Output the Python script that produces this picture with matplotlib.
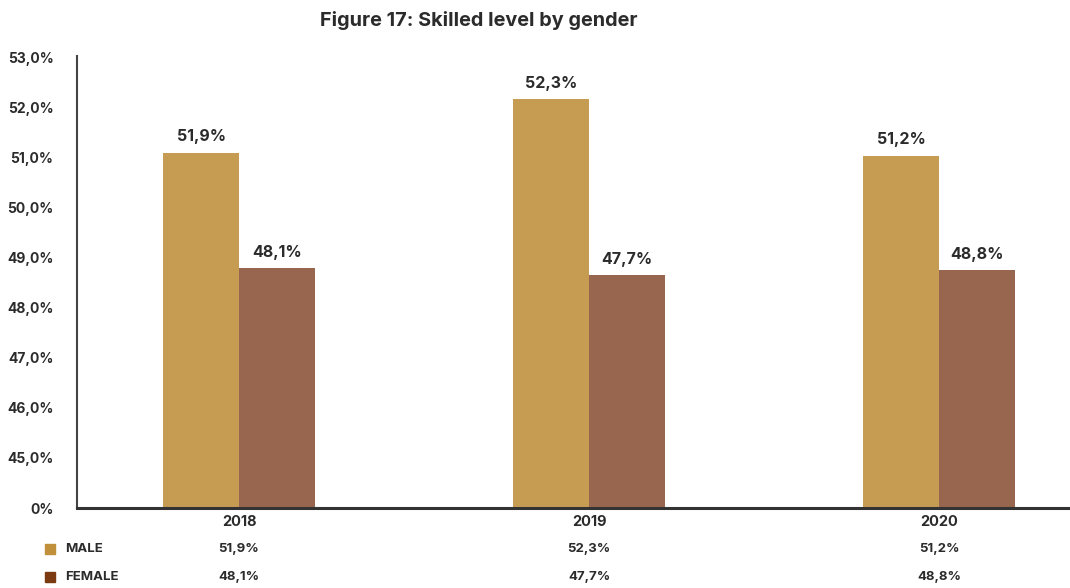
import numpy as np
import matplotlib.pyplot as plt
from matplotlib.patches import Rectangle

years = ["2018", "2019", "2020"]
male_labels = [51.9, 52.3, 51.2]
female_labels = [48.1, 47.7, 48.8]
# bar tops as drawn in the original (on the 45-53 scale)
male_bars = [51.11, 52.17, 51.05]
female_bars = [48.80, 48.66, 48.76]
tick_values = ["0%", "45,0%", "46,0%", "47,0%", "48,0%", "49,0%", "50,0%", "51,0%", "52,0%", "53,0%"]

MALE_C = "#C69C53"
FEMALE_C = "#98664E"
TXT = "#2b2b2b"
FONT = "Inter"


def pct(v):
    return f"{v:.1f}%".replace(".", ",")


def to_pos(v):
    # broken axis: 0% at 0, 45% at 1, 53% at 9
    return np.asarray(v) - 44


fig = plt.figure(figsize=(10.7, 5.88), dpi=100)
ax = fig.add_axes([77 / 1070, 80 / 588, 993 / 1070, 452 / 588])

x = np.arange(len(years))
w = 0.217
ax.bar(x - w / 2, to_pos(male_bars), w, color=MALE_C, zorder=2)
ax.bar(x + w / 2, to_pos(female_bars), w, color=FEMALE_C, zorder=2)

for i in range(len(years)):
    ax.text(x[i] - w / 2, to_pos(male_bars[i]) + 0.17, pct(male_labels[i]), ha="center",
            va="bottom", fontsize=11.5, fontweight="bold", color=TXT, family=FONT)
    ax.text(x[i] + w / 2, to_pos(female_bars[i]) + 0.17, pct(female_labels[i]), ha="center",
            va="bottom", fontsize=11.5, fontweight="bold", color=TXT, family=FONT)

ax.set_xlim(-0.463, 2.374)
ax.set_ylim(0, 9.04)
ax.set_yticks(np.arange(len(tick_values)))
ax.set_yticklabels(tick_values, fontsize=10, fontweight="bold", color=TXT, family=FONT)
ax.tick_params(axis="y", length=0, pad=17)
ax.set_xticks([])
for s in ["top", "right"]:
    ax.spines[s].set_visible(False)
ax.spines["left"].set_color("#444444")
ax.spines["left"].set_linewidth(1.5)
ax.spines["bottom"].set_color("#333333")
ax.spines["bottom"].set_linewidth(2.2)
ax.spines["bottom"].set_zorder(3)

# data table under the axis
trans = ax.get_xaxis_transform()
for i, yr in enumerate(years):
    ax.text(x[i], -0.032, yr, transform=trans, ha="center", va="center",
            fontsize=10.5, fontweight="bold", color=TXT, family=FONT)
for i in range(len(years)):
    xf = (77 + (x[i] + 0.463) / 2.837 * 993) / 1070
    fig.text(xf, 1 - 549 / 588, pct(male_labels[i]), ha="center", va="center",
             fontsize=9.5, fontweight="bold", color=TXT, family=FONT)
    fig.text(xf, 1 - 577 / 588, pct(female_labels[i]), ha="center", va="center",
             fontsize=9.5, fontweight="bold", color=TXT, family=FONT)

fig.patches.append(Rectangle((45 / 1070, 1 - 554 / 588), 10 / 1070, 10 / 588,
                             transform=fig.transFigure, color="#C0903A"))
fig.patches.append(Rectangle((45 / 1070, 1 - 582 / 588), 10 / 1070, 10 / 588,
                             transform=fig.transFigure, color="#7B3A10"))
fig.text(65 / 1070, 1 - 549 / 588, "MALE", ha="left", va="center",
         fontsize=9.5, fontweight="bold", color=TXT, family=FONT)
fig.text(65 / 1070, 1 - 577 / 588, "FEMALE", ha="left", va="center",
         fontsize=9.5, fontweight="bold", color=TXT, family=FONT)

fig.text(479 / 1070, 1 - 21 / 588, "Figure 17: Skilled level by gender", ha="center",
         va="center", fontsize=14.3, fontweight="bold", color=TXT, family=FONT)

fig.savefig("out.png", dpi=100)
